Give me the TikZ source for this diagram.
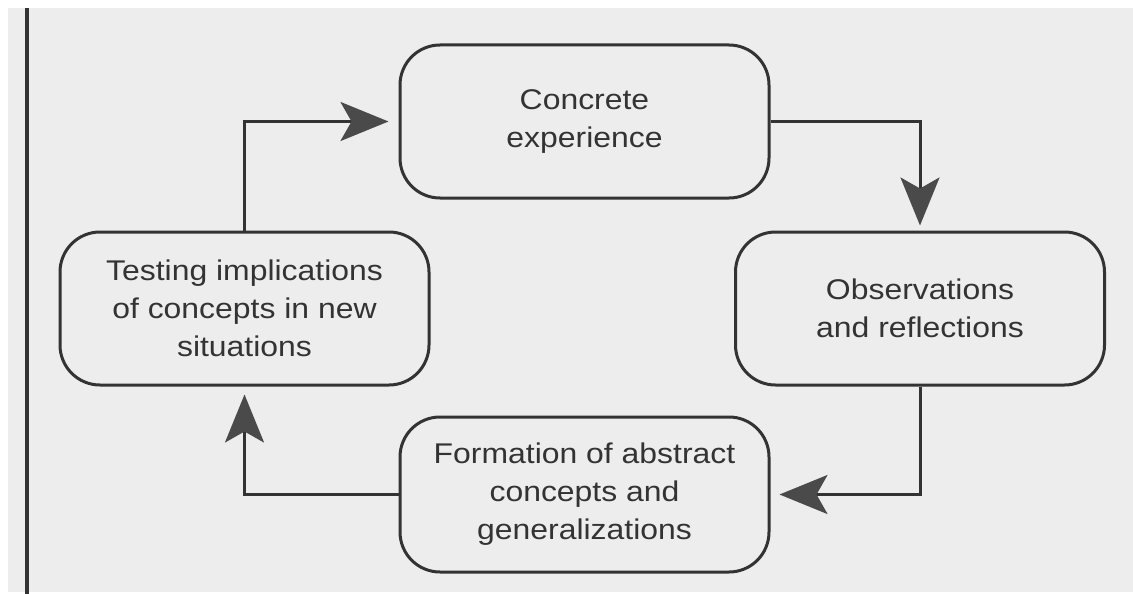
\documentclass[tikz,border=0pt]{standalone}
\usepackage{fontspec}
\setmainfont{Liberation Sans}[FakeStretch=1.12]
\usetikzlibrary{arrows.meta}
\definecolor{bg}{HTML}{EDEDED}
\definecolor{ink}{HTML}{333333}
\definecolor{tipc}{HTML}{4A4A4A}
\begin{document}
\begin{tikzpicture}[x=1pt,y=-1pt,
  stage/.style={draw=ink, line width=3pt, rounded corners=40pt,
    minimum width=369pt, minimum height=153pt, align=center, text=ink,
    inner sep=0pt, font=\fontsize{28.5}{38}\selectfont},
  flow/.style={draw=ink, line width=3pt,
    -{Stealth[length=48pt,width=39pt,inset=11pt,color=tipc]}}]
\useasboundingbox (0,0) rectangle (1133,594);
\fill[white] (0,0) rectangle (1133,594);
\fill[bg] (8,8) rectangle (1133,592);
\draw[ink, line width=4pt] (27,8) -- (27,594);

\node[stage] (concrete) at (584.5,121.5) {Concrete\\experience};
\node[stage] (obs) at (920,308.5) {Observations\\and reflections};
\node[stage, minimum height=155pt] (form) at (584.5,494.5) {Formation of abstract\\concepts and\\generalizations};
\node[stage] (test) at (244.5,308.5) {Testing implications\\of concepts in new\\situations};

\draw[flow, shorten >=10pt] (test.north) |- (concrete.west);
\draw[flow, shorten >=5pt] (concrete.east) -| (obs.north);
\draw[flow, shorten >=9pt] (obs.south) |- (form.east);
\draw[flow, shorten >=8pt] (form.west) -| (test.south);
\end{tikzpicture}
\end{document}
